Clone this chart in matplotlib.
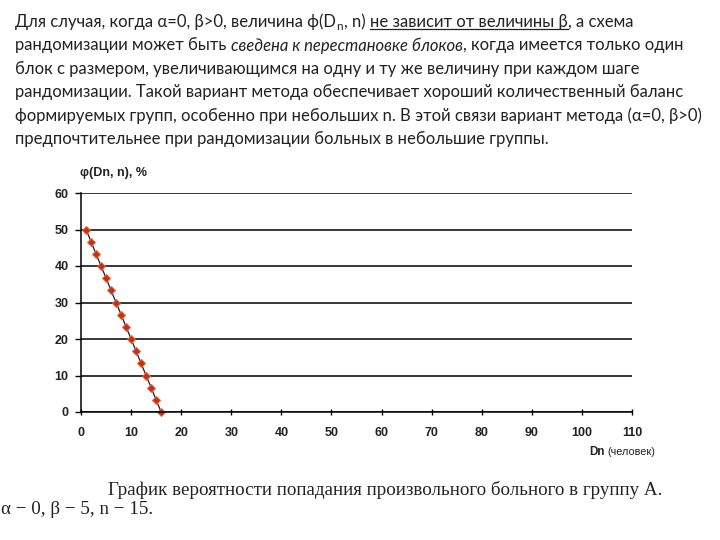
import matplotlib.pyplot as plt

# data
n_values = [1, 2, 3, 4, 5, 6, 7, 8, 9, 10, 11, 12, 13, 14, 15, 16]
phi_values = [50, 46.7, 43.3, 40, 36.7, 33.3, 30, 26.7, 23.3, 20, 16.7, 13.3, 10, 6.7, 3.3, 0]
x_ticks = [0, 10, 20, 30, 40, 50, 60, 70, 80, 90, 100, 110]
y_ticks = [0, 10, 20, 30, 40, 50, 60]

text_lines = [
    [("Для случая, когда α=0, β>0, величина ф(D", {}), ("n", {"sub": True}),
     (", n) ", {}), ("не зависит от величины β", {"under": True}), (", а схема", {})],
    [("рандомизации может быть ", {}), ("сведена к перестановке блоков", {"style": "italic"}),
     (", когда имеется только один", {})],
    [("блок с размером, увеличивающимся на одну и ту же величину при каждом шаге", {})],
    [("рандомизации. Такой вариант метода обеспечивает хороший количественный баланс", {})],
    [("формируемых групп, особенно при небольших n. В этой связи вариант метода (α=0, β>0)", {})],
    [("предпочтительнее при рандомизации больных в небольшие группы.", {})],
]

fig = plt.figure(figsize=(7.2, 5.4), dpi=100)
renderer = fig.canvas.get_renderer()

# paragraph on top, drawn piece by piece
fs = 12
y = 1 - 22 / 540
for line in text_lines:
    x = 15 / 720
    for txt, opt in line:
        size = fs * 0.7 if opt.get("sub") else fs
        yy = y - 0.008 if opt.get("sub") else y
        t = fig.text(x, yy, txt, fontsize=size, family="Lato", color="#222222",
                     style=opt.get("style", "normal"), va="center", ha="left")
        bb = t.get_window_extent(renderer).transformed(fig.transFigure.inverted())
        if opt.get("under"):
            fig.add_artist(plt.Line2D([bb.x0, bb.x1], [bb.y0 + 0.002, bb.y0 + 0.002],
                                      color="#222222", lw=0.9, transform=fig.transFigure))
        x = bb.x1
        if opt.get("sub"):
            x += 1.5 / 720
    y -= 23.4 / 540

ax = fig.add_axes([81 / 720, 1 - 412 / 540, (632 - 81) / 720, (412 - 193) / 540])
ax.plot(n_values, phi_values, color="#1a1a40", lw=0.9, marker="D", markersize=3.6,
        markerfacecolor="#c0301e", markeredgecolor="#e8662c", markeredgewidth=0.7, clip_on=False)

ax.set_xlim(0, 110)
ax.set_ylim(0, 60)
ax.set_xticks(x_ticks)
ax.set_yticks(y_ticks)
ax.yaxis.grid(True, color="black", lw=1.1)
ax.set_axisbelow(True)
for s in ["top", "right"]:
    ax.spines[s].set_visible(False)
ax.spines["left"].set_linewidth(1.1)
ax.spines["bottom"].set_linewidth(1.1)
ax.tick_params(axis="x", direction="inout", length=5, width=1, labelsize=9, pad=8)
ax.tick_params(axis="y", direction="out", length=4, width=1, labelsize=9, pad=5)
for lab in ax.get_xticklabels() + ax.get_yticklabels():
    lab.set_fontweight("bold")
    lab.set_family("Liberation Sans")
    lab.set_color("#222222")

fig.text(80 / 720, 1 - 173 / 540, "φ(Dn, n), %", fontsize=9, fontweight="bold",
         family="Liberation Sans", va="center", color="#222222")
fig.text(589 / 720, 1 - 452 / 540, "Dn", fontsize=8.5, fontweight="bold",
         family="Liberation Sans", va="center", color="#222222")
fig.text(607 / 720, 1 - 452 / 540, "(человек)", fontsize=7.8,
         family="Liberation Sans", va="center", color="#222222")

fig.text(108 / 720, 1 - 490 / 540, "График вероятности попадания произвольного больного в группу А.",
         fontsize=13.7, family="Liberation Serif", va="center", color="#222222")
fig.text(1 / 720, 1 - 510 / 540, "α − 0, β − 5, n − 15.",
         fontsize=13.7, family="Liberation Serif", va="center", color="#222222")

fig.savefig("out.png", dpi=100)
